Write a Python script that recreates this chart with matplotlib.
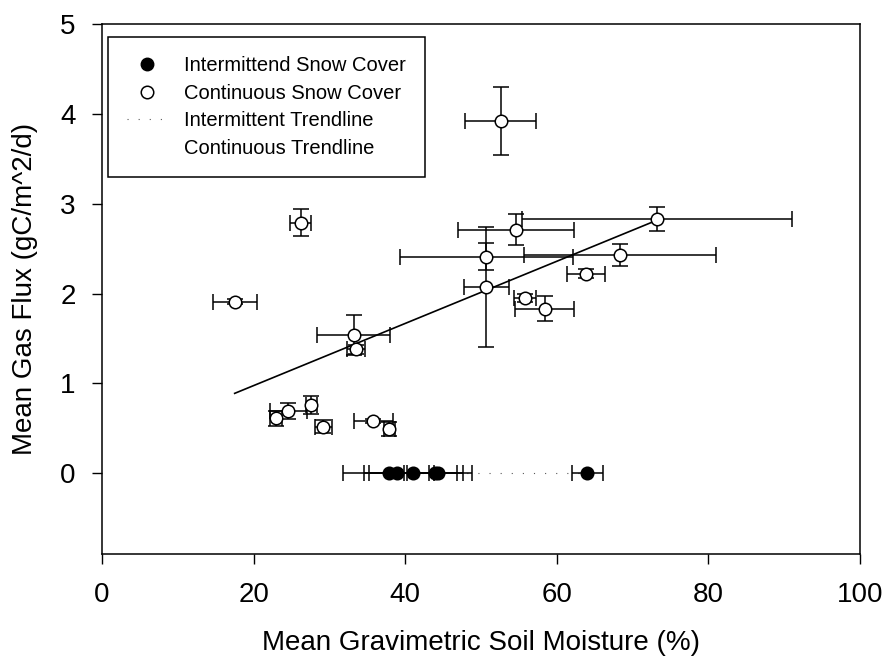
import matplotlib
matplotlib.use('Agg')
import matplotlib.pyplot as plt
from matplotlib.lines import Line2D
import numpy as np

plt.rcParams['font.family'] = 'Liberation Sans'

# intermittent snow cover sites (flux ~ 0)
int_x = [37.8, 38.9, 41.0, 43.9, 44.3, 64.0]
int_y = [0.0, 0.0, 0.0, 0.0, 0.0, 0.0]
int_xerr = [6.0, 4.3, 5.8, 3.7, 4.5, 2.05]

# continuous snow cover sites
cont_x = [52.6, 26.2, 17.5, 33.2, 33.5, 54.6, 50.7, 50.7, 68.3, 63.9,
          55.8, 58.4, 23.0, 24.6, 27.6, 29.2, 35.8, 37.9, 73.2]
cont_y = [3.92, 2.79, 1.91, 1.54, 1.38, 2.71, 2.41, 2.07, 2.43, 2.22,
          1.95, 1.83, 0.61, 0.69, 0.76, 0.52, 0.58, 0.49, 2.83]
cont_xerr = [4.65, 1.4, 2.9, 4.8, 1.2, 7.7, 11.4, 2.95, 12.65, 2.5,
             1.4, 3.9, 0.8, 2.5, 0.7, 1.1, 2.6, 0.7, 17.8]
cont_yerr = [0.38, 0.15, 0.03, 0.22, 0.05, 0.17, 0.15, 0.67, 0.12, 0.05,
             0.04, 0.14, 0.08, 0.09, 0.1, 0.07, 0.02, 0.08, 0.13]

legend_labels = ['Intermittend Snow Cover', 'Continuous Snow Cover',
                 'Intermittent Trendline', 'Continuous Trendline']

fig = plt.figure(figsize=(8.91, 6.66), dpi=100)
ax = fig.add_axes([0.1145, 0.168, 0.8507, 0.796])

# linear trendlines over each group's x range
for xs, ys, style in [(int_x, int_y, dict(color='0.35', lw=0.8, ls=(0, (1, 9)))),
                      (cont_x, cont_y, dict(color='black', lw=1.2, ls='-'))]:
    k, b = np.polyfit(xs, ys, 1)
    xx = np.array([min(xs), max(xs)])
    ax.plot(xx, k * xx + b, zorder=1, **style)

ebkw = dict(fmt='o', ms=9, mec='black', mew=1.1, ecolor='black',
            elinewidth=1.1, capsize=5.5, capthick=1.1, zorder=3)
ax.errorbar(int_x, int_y, xerr=int_xerr, mfc='black', **ebkw)
ax.errorbar(cont_x, cont_y, xerr=cont_xerr, yerr=cont_yerr, mfc='white', **ebkw)

ax.set_xlim(0, 100)
ax.set_ylim(-0.9, 5)
ax.set_xticks([0, 20, 40, 60, 80, 100])
ax.set_yticks([0, 1, 2, 3, 4, 5])
ax.tick_params(axis='x', direction='out', length=7, width=1, labelsize=20, pad=13)
ax.tick_params(axis='y', direction='out', length=7, width=1, labelsize=20, pad=12)
for s in ax.spines.values():
    s.set_linewidth(1.1)

ax.set_xlabel('Mean Gravimetric Soil Moisture (%)', fontsize=20, labelpad=16)
ax.set_ylabel('Mean Gas Flux (gC/m^2/d)', fontsize=20, labelpad=16)

handles = [
    Line2D([], [], ls='none', marker='o', ms=9, mfc='black', mec='black'),
    Line2D([], [], ls='none', marker='o', ms=9, mfc='white', mec='black', mew=1.1),
    Line2D([], [], color='0.35', lw=0.8, ls=(0, (1, 9))),
    Line2D([], [], color='none'),
]
leg = ax.legend(handles, legend_labels, loc='upper left',
                bbox_to_anchor=(0.008, 0.975), borderaxespad=0,
                fontsize=14.5, frameon=True, fancybox=False, framealpha=1,
                edgecolor='black', borderpad=0.95, handlelength=2.0,
                handletextpad=0.8, labelspacing=0.42)
leg.get_frame().set_linewidth(1.1)

fig.savefig('out.png', dpi=100)
